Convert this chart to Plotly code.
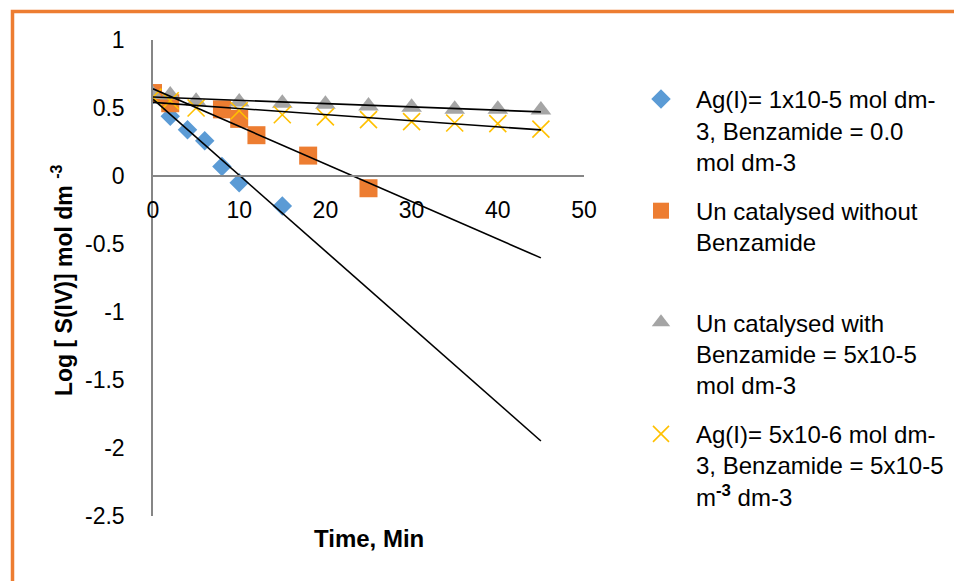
import numpy as np
import plotly.graph_objects as go

# ---- data ----
t_blue = [0, 2, 4, 6, 8, 10, 15]
y_blue = [0.60, 0.44, 0.34, 0.26, 0.07, -0.05, -0.22]

t_orange = [0, 2, 8, 10, 12, 18, 25]
y_orange = [0.61, 0.535, 0.49, 0.42, 0.30, 0.15, -0.09]

t_gray = [0, 2, 5, 10, 15, 20, 25, 30, 35, 40, 45]
y_gray = [0.60, 0.595, 0.55, 0.545, 0.535, 0.527, 0.515, 0.505, 0.49, 0.49, 0.485]

t_yellow = [0, 2, 5, 10, 15, 20, 25, 30, 35, 40, 45]
y_yellow = [0.58, 0.553, 0.50, 0.48, 0.45, 0.435, 0.415, 0.40, 0.39, 0.385, 0.345]

names = [
    "Ag(I)= 1x10-5 mol dm-<br>3, Benzamide = 0.0<br>mol dm-3",
    "Un catalysed without<br>Benzamide<br> ",
    "Un catalysed with<br>Benzamide = 5x10-5<br>mol dm-3",
    "Ag(I)= 5x10-6 mol dm-<br>3, Benzamide = 5x10-5<br>m<b><sup>-3</sup></b> dm-3",
]

x_ticks = [0, 10, 20, 30, 40, 50]
x_ticktext = ["0", "10", "20", "30", "40", "50"]
y_ticks = [1, 0.5, 0, -0.5, -1, -1.5, -2, -2.5]
y_ticktext = ["1", "0.5", "0", "-0.5", "-1", "-1.5", "-2", "-2.5"]

x_title = "Time, Min"
y_title = "Log [ S(IV)] mol dm <sup>-3</sup>"

# ---- styling ----
FONT = "Liberation Sans, Arial, sans-serif"
OFF = 8  # page body margin of the browser
W, H = 962 - OFF, 581 - OFF
ML, MT = 153 - OFF, 40 - OFF
PW, PH = 431, 476
MR = W - ML - PW
MB = H - MT - PH
XR = [0, 50]
YR = [-2.5, 1]

def px_to_paper_x(px):
    return (px - OFF - ML) / PW

def px_to_paper_y(py):
    return (MT + PH - (py - OFF)) / PH

series = [
    (t_blue, y_blue, dict(symbol="diamond", size=15, color="#5B9BD5")),
    (t_orange, y_orange, dict(symbol="square", size=18, color="#ED7D31")),
    (t_gray, y_gray, dict(symbol="triangle-up", size=18, color="#A5A5A5")),
    (t_yellow, y_yellow, dict(symbol="x-thin", size=17, color="#FFC000",
                              line=dict(color="#FFC000", width=1.6))),
]

fig = go.Figure()
for i, ((t, y, mk), nm) in enumerate(zip(series, names)):
    fig.add_trace(go.Scatter(x=t, y=y, mode="markers", name=nm, marker=mk,
                             legendgroup=f"g{i}"))

t_max = max(max(t_blue), max(t_orange), max(t_gray), max(t_yellow))
for t, y, _ in series:
    k, b = np.polyfit(t, y, 1)
    xs = np.array([0.0, t_max])
    fig.add_trace(go.Scatter(x=xs, y=k * xs + b, mode="lines",
                             line=dict(color="black", width=1.6),
                             showlegend=False, hoverinfo="skip"))

AXC = "#868686"
fig.update_layout(
    width=W, height=H,
    margin=dict(l=ML, r=MR, t=MT, b=MB),
    paper_bgcolor="white", plot_bgcolor="white",
    font=dict(family=FONT, size=23, color="black"),
    xaxis=dict(range=XR, tickvals=x_ticks, ticktext=x_ticktext,
               showgrid=False, zeroline=False, showline=True,
               linecolor=AXC, linewidth=1.5, ticks="",
               anchor="free", position=(0 - YR[0]) / (YR[1] - YR[0]),
               ticklabelstandoff=14, tickfont=dict(size=23)),
    yaxis=dict(range=YR, tickvals=y_ticks, ticktext=y_ticktext,
               showgrid=False, zeroline=False, showline=True,
               linecolor=AXC, linewidth=1.5, ticks="",
               ticklabelstandoff=22, tickfont=dict(size=23)),
    legend=dict(x=px_to_paper_x(626), y=px_to_paper_y(77),
                xanchor="left", yanchor="top", valign="top",
                font=dict(size=24), traceorder="grouped",
                tracegroupgap=15, itemwidth=60, bgcolor="rgba(0,0,0,0)"),
    showlegend=True,
    shapes=[dict(type="rect", xref="paper", yref="paper",
                 x0=px_to_paper_x(12.5), x1=px_to_paper_x(990),
                 y0=px_to_paper_y(600), y1=px_to_paper_y(11.5),
                 line=dict(color="#ED7D31", width=3.5),
                 fillcolor="rgba(0,0,0,0)", layer="below")],
    annotations=[
        dict(text=f"<b>{x_title}</b>", xref="paper", yref="paper",
             x=px_to_paper_x(369), y=px_to_paper_y(538),
             xanchor="center", yanchor="middle", showarrow=False,
             font=dict(size=24)),
        dict(text=f"<b>{y_title}</b>", xref="paper", yref="paper",
             x=px_to_paper_x(62), y=px_to_paper_y(280), textangle=-90,
             xanchor="center", yanchor="middle", showarrow=False,
             font=dict(size=23)),
    ],
)

fig.write_html("out.html")
